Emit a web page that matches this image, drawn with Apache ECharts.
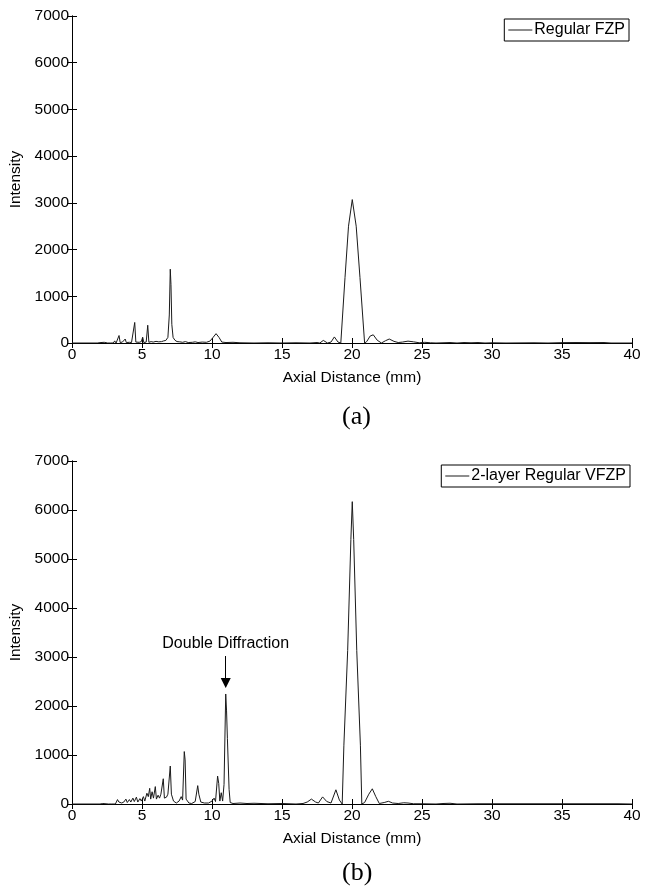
<!DOCTYPE html>
<html>
<head>
<meta charset="utf-8">
<script src="https://cdn.jsdelivr.net/npm/echarts@6/dist/echarts.min.js"></script>
<style>html,body{margin:0;padding:0;background:#fff;}#c{width:652px;height:892px;}</style>
</head>
<body>
<div id="c"></div>
<script>
// ---- data (a) Regular FZP ----
const fzpX = [0,1.8,2.0,2.1,2.3,2.4,2.55,2.65,2.75,2.95,3.05,3.15,3.28,3.36,3.44,3.6,3.72,3.8,3.88,4.0,4.1,4.25,4.38,4.48,4.56,4.7,4.8,4.95,5.05,5.13,5.3,5.41,5.49,5.65,5.8,6.0,6.2,6.4,6.55,6.7,6.85,6.95,7.02,7.07,7.13,7.22,7.35,7.5,7.7,7.9,8.1,8.3,8.6,8.8,9.0,9.3,9.6,9.85,10.05,10.29,10.5,10.7,11.0,11.5,12.0,13,14,15,16,17,17.5,17.7,17.95,18.25,18.5,18.74,19.0,19.2,19.5,19.75,20.02,20.3,20.57,20.9,21.05,21.3,21.52,21.8,22.1,22.4,22.66,23.0,23.3,23.6,24.0,24.4,24.8,25.2,25.6,26,27,27.5,28,28.5,29,29.5,30,31,33,34,35,36,37,38,38.5,40];
const fzpY = [0,0,8,0,15,0,0,35,0,0,45,0,5,160,10,20,40,85,10,25,15,10,20,440,20,40,15,30,125,10,20,380,15,30,20,35,25,30,45,55,120,600,1580,1250,400,120,60,30,25,15,30,10,15,25,10,20,15,40,110,200,120,20,10,15,5,0,5,0,5,0,10,0,55,0,20,130,20,0,1400,2500,3070,2500,1400,0,30,150,175,60,0,50,85,35,10,20,40,25,5,15,5,0,10,0,10,5,10,0,5,0,5,0,8,10,8,10,0,0];
// ---- data (b) 2-layer Regular VFZP ----
const vfzpX = [0,2.0,2.2,2.3,2.6,2.7,2.8,3.1,3.25,3.35,3.45,3.55,3.7,3.85,3.95,4.1,4.2,4.35,4.45,4.6,4.7,4.85,4.95,5.1,5.2,5.35,5.45,5.55,5.62,5.72,5.82,5.95,6.03,6.15,6.25,6.35,6.52,6.6,6.75,6.85,7.02,7.1,7.25,7.45,7.65,7.8,7.9,8.02,8.08,8.15,8.35,8.55,8.8,8.98,9.06,9.2,9.45,9.75,10.0,10.15,10.25,10.4,10.48,10.56,10.66,10.76,10.86,10.98,11.04,11.1,11.14,11.22,11.3,11.5,12,12.5,13,14,15,16,16.5,16.8,17.1,17.4,17.6,17.9,18.2,18.5,18.85,19.1,19.3,19.42,19.69,19.92,20.02,20.12,20.34,20.6,20.7,20.9,21.2,21.45,21.7,21.95,22.3,22.6,22.9,23.3,23.7,24.0,24.4,25,26,26.5,27,27.5,29,33,37,39,40];
const vfzpY = [0,0,10,0,0,25,0,0,90,40,80,20,40,100,30,90,40,120,50,140,40,110,60,150,60,220,150,320,100,250,120,355,100,180,120,200,515,120,140,200,775,200,60,20,60,150,80,1070,900,100,20,10,50,375,200,40,20,20,60,120,50,570,420,60,230,60,400,2245,1900,1340,1300,300,30,10,20,10,15,5,10,0,10,40,100,40,20,145,50,20,290,80,0,1200,3130,5400,6170,5400,3130,1200,0,30,200,310,150,10,30,55,20,10,25,20,5,5,0,10,15,0,5,5,5,5,0];
// ---- axes / labels ----
const xTicks = {min: 0, max: 40, interval: 5};
const yTicks = {min: 0, max: 7000, interval: 1000};
const seriesNames = ['Regular FZP', '2-layer Regular VFZP'];
const panelLabels = ['(a)', '(b)'];
const xName = 'Axial Distance (mm)';
const yName = 'Intensity';
// annotation: arrow above the double diffraction peak
const arrowX = 10.98, arrowTop = 3020, arrowTip = 2470;
const arrowText = 'Double Diffraction';

const zip = (xs, ys) => xs.map((x, i) => [x, ys[i]]);
const FONT = '"Liberation Sans", Arial, sans-serif';
const grids = [
  {left: 72, top: 16, width: 560, height: 327, containLabel: false, outerBoundsMode: 'none'},
  {left: 72, top: 461, width: 560, height: 343, containLabel: false, outerBoundsMode: 'none'}
];
const axisLine = {show: true, lineStyle: {color: '#000', width: 1}};
const tick = {show: true, inside: true, length: 5, lineStyle: {color: '#000', width: 1}};
const plain = v => String(v);
const xAxes = [], yAxes = [];
[0, 1].forEach(g => {
  xAxes.push({type: 'value', gridIndex: g, ...xTicks, position: 'bottom', name: xName, nameLocation: 'middle', nameGap: 27,
    nameTextStyle: {fontFamily: FONT, fontSize: 15.5, color: '#000'},
    axisLine, axisTick: tick, splitLine: {show: false},
    axisLabel: {fontFamily: FONT, fontSize: 15.5, color: '#000', margin: 4, formatter: plain}});
  xAxes.push({type: 'value', gridIndex: g, ...xTicks, position: 'top', axisLine, axisTick: tick, splitLine: {show: false}, axisLabel: {show: false}});
  yAxes.push({type: 'value', gridIndex: g, ...yTicks, position: 'left', name: yName, nameLocation: 'middle', nameGap: 44,
    nameTextStyle: {fontFamily: FONT, fontSize: 15.5, color: '#000'},
    axisLine, axisTick: tick, splitLine: {show: false},
    axisLabel: {fontFamily: FONT, fontSize: 15.5, color: '#000', margin: 3, formatter: plain}});
  yAxes.push({type: 'value', gridIndex: g, ...yTicks, position: 'right', axisLine, axisTick: tick, splitLine: {show: false}, axisLabel: {show: false}});
});

const legendBase = {borderColor: '#000', borderWidth: 1, padding: [3, 4, 3, 4], icon: 'rect', itemWidth: 24, itemHeight: 1, itemGap: 4,
  itemStyle: {color: '#1a1a1a'}, textStyle: {fontFamily: FONT, fontSize: 16, color: '#000', padding: [0, 0, 0, -3]}};

const chart = echarts.init(document.getElementById('c'), null, {renderer: 'canvas'});
chart.setOption({
  animation: false,
  backgroundColor: '#fff',
  title: [
    {text: panelLabels[0], left: 337, top: 399, textStyle: {fontFamily: '"Liberation Serif", "Times New Roman", serif', fontSize: 26, fontWeight: 'normal', color: '#000'}},
    {text: panelLabels[1], left: 337, top: 855, textStyle: {fontFamily: '"Liberation Serif", "Times New Roman", serif', fontSize: 26, fontWeight: 'normal', color: '#000'}}
  ],
  legend: [
    {...legendBase, data: [seriesNames[0]], right: 23, top: 19},
    {...legendBase, data: [seriesNames[1]], right: 22, top: 465}
  ],
  grid: grids,
  xAxis: xAxes,
  yAxis: yAxes,
  series: [
    {name: seriesNames[0], type: 'line', xAxisIndex: 0, yAxisIndex: 0, data: zip(fzpX, fzpY), symbol: 'none', showSymbol: false,
      lineStyle: {color: '#1a1a1a', width: 1}, itemStyle: {color: '#1a1a1a'}},
    {name: seriesNames[1], type: 'line', xAxisIndex: 2, yAxisIndex: 2, data: zip(vfzpX, vfzpY), symbol: 'none', showSymbol: false,
      lineStyle: {color: '#1a1a1a', width: 1}, itemStyle: {color: '#1a1a1a'},
      markLine: {silent: true, symbol: ['none', 'triangle'], symbolSize: 10,
        lineStyle: {color: '#000', width: 1, type: 'solid'},
        label: {show: true, position: 'start', formatter: arrowText, fontFamily: FONT, fontSize: 16, color: '#000', distance: 4},
        data: [[{coord: [arrowX, arrowTop]}, {coord: [arrowX, arrowTip]}]]}}
  ]
});
</script>
</body>
</html>
